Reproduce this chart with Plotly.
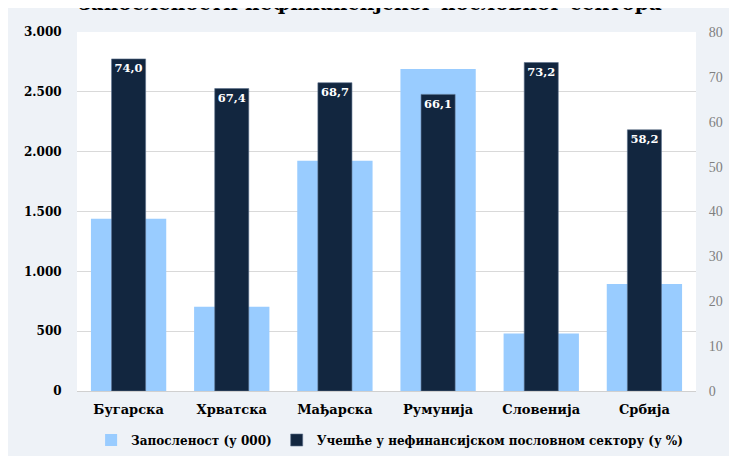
import plotly.graph_objects as go

countries = ["Бугарска", "Хрватска", "Мађарска", "Румунија", "Словенија", "Србија"]
employment = [1440, 705, 1925, 2690, 480, 895]  # у 000
share = [74.0, 67.4, 68.7, 66.1, 73.2, 58.2]  # у %

SERIF = "DejaVu Serif"
TIMES = "Liberation Serif"
LIGHT = "#99ccff"
DARK = "#12263f"
BG = "#eef2f7"

fig = go.Figure()
fig.add_trace(go.Bar(
    x=countries, y=employment, name="Запосленост (у 000)",
    marker=dict(color=LIGHT, line=dict(width=0)),
    width=0.73, yaxis="y", hoverinfo="skip",
))
fig.add_trace(go.Bar(
    x=countries, y=share, name="Учешће у нефинансијском пословном сектору (у %)",
    marker=dict(color=DARK, line=dict(color="#5a6f8c", width=0.6)),
    width=0.33, yaxis="y2",
    texttemplate="%{y:.1f}", textposition="inside", insidetextanchor="end",
    textfont=dict(family=SERIF, size=12, color="white", weight="bold"),
    textangle=0, hoverinfo="skip",
))

fig.update_layout(
    width=737, height=456,
    margin=dict(l=69, r=49, t=24, b=73, autoexpand=False),
    paper_bgcolor=BG, plot_bgcolor="white",
    barmode="overlay", separators=",.",
    font=dict(family=SERIF, size=13, color="black"),
    # the title sits mostly above the top of the page, only its lower part shows
    annotations=[dict(
        text="запослености нефинансијског пословног сектора",
        xref="paper", yref="paper", x=0.473, xanchor="center",
        y=1, yanchor="bottom", yshift=15, showarrow=False,
        font=dict(family=SERIF, size=20, color="black", weight="bold"),
    )],
    xaxis=dict(
        tickfont=dict(family=SERIF, size=13, weight="bold"),
        showline=False, ticks="outside", ticklen=6, tickcolor="rgba(0,0,0,0)",
    ),
    yaxis=dict(
        range=[0, 3000], dtick=500, tickformat=",",
        gridcolor="#d9d9d9", gridwidth=1,
        zeroline=True, zerolinecolor="#d0d0d0", zerolinewidth=1,
        tickfont=dict(family=SERIF, size=12, weight="bold"),
        ticks="outside", ticklen=12, tickcolor="rgba(0,0,0,0)",
    ),
    yaxis2=dict(
        range=[0, 80], dtick=10, overlaying="y", side="right",
        showgrid=False, zeroline=False,
        tickfont=dict(family=TIMES, size=14, color="#7f7f7f"),
        ticks="outside", ticklen=9, tickcolor="rgba(0,0,0,0)",
    ),
    legend=dict(
        orientation="h", x=0.505, xanchor="center", y=-49 / 359, yanchor="middle",
        font=dict(family=SERIF, size=12, weight="bold"),
        traceorder="normal", itemwidth=30,
    ),
)

fig.write_html("out.html")
